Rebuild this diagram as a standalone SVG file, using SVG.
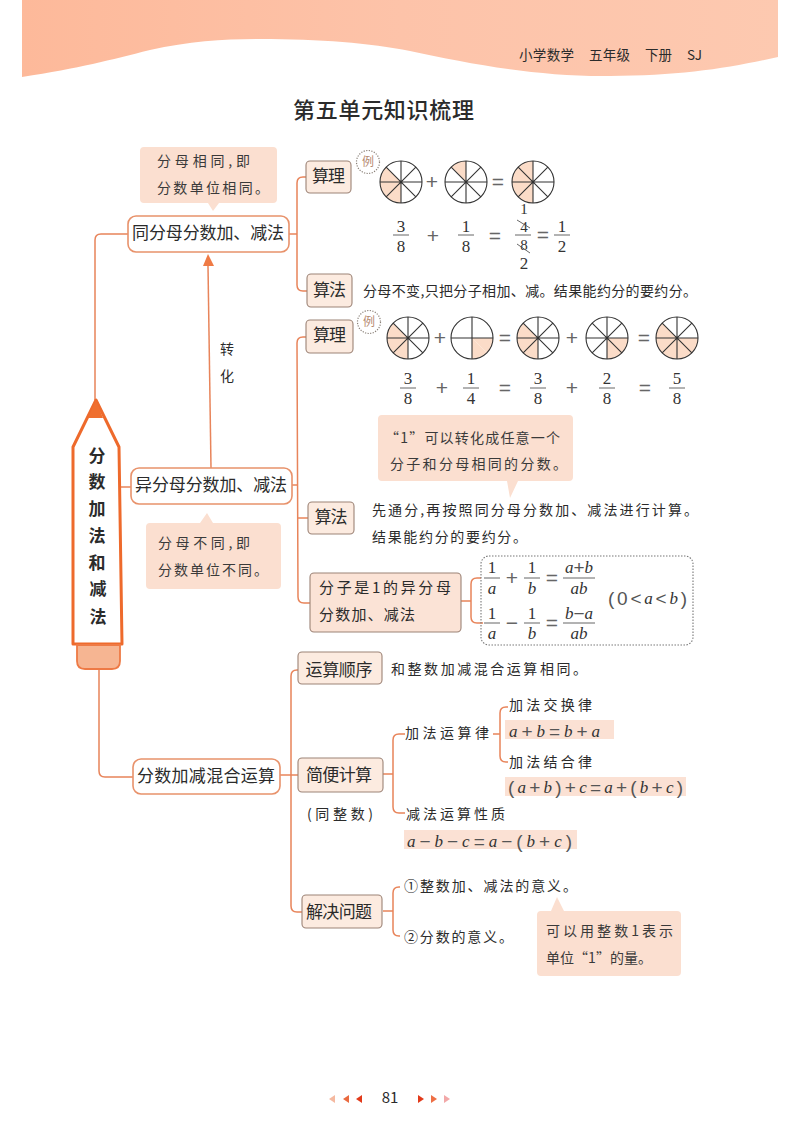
<svg xmlns="http://www.w3.org/2000/svg" width="800" height="1132" viewBox="0 0 800 1132">
<style>
text{font-family:"Noto Sans CJK SC","Noto Sans",sans-serif;fill:#2b2b2b;dominant-baseline:central;transform:translateY(-.09em)}
.m{font-size:17px;text-anchor:middle}
.b{font-size:14px}
.c{font-size:14px;fill:#3a3a3a}
.f{font-family:"Liberation Serif",serif;font-size:17px;text-anchor:middle;fill:#333;transform:none}
.f15{font-size:15px}
.fs{font-family:"Liberation Sans",sans-serif;font-size:21px;text-anchor:middle;fill:#666;transform:none}
.i{font-family:"Liberation Serif",serif;font-style:italic;font-size:17px;fill:#333;transform:none}
.iz{font-family:"Liberation Serif",serif;font-style:italic;font-size:17px;text-anchor:middle;fill:#333;transform:none}
.o{font-family:"Liberation Sans",sans-serif;font-style:normal;font-size:19px;fill:#555}
.call{fill:#fbdfd0}
.hl{fill:#fbe1d4}
.main{fill:#fff;stroke:#e8926b;stroke-width:1.6}
.sub{fill:#fcebe0;stroke:#9c8376;stroke-width:1.1}
.con{fill:none;stroke:#e8845a;stroke-width:1.5}
.bar{stroke:#555;stroke-width:.9}
.pl{stroke:#333;stroke-width:1.1;fill:none}
.sh{fill:#fbdcc8}
.ex{fill:#fff;stroke:#8a8078;stroke-width:1.2;stroke-dasharray:1.2 1.4}
.ext{font-size:12px;text-anchor:middle;fill:#b58a70}
</style>
<defs>
<linearGradient id="band" x1="0" x2="1" y1="0" y2="0"><stop offset="0" stop-color="#fdb99a"/><stop offset=".5" stop-color="#fdc3a9"/><stop offset="1" stop-color="#fdc9b0"/></linearGradient>
<g id="p8" class="pl"><circle r="21"/><path d="M0-21V21M-21 0H21M-14.850-14.850L14.850 14.850M-14.850 14.850L14.850-14.850"/></g>
<g id="p4" class="pl"><circle r="21"/><path d="M0-21V21M-21 0H21"/></g>
<path id="s2" class="sh" d="M0 0H21A21 21 0 0 1 14.850 14.850Z"/>
<path id="s3" class="sh" d="M0 0L14.850 14.850A21 21 0 0 1 0 21Z"/>
<path id="s4" class="sh" d="M0 0V21A21 21 0 0 1-14.850 14.850Z"/>
<path id="s5" class="sh" d="M0 0L-14.850 14.850A21 21 0 0 1-21 0Z"/>
<path id="s6" class="sh" d="M0 0H-21A21 21 0 0 1-14.850-14.850Z"/>
<path id="s7" class="sh" d="M0 0L-14.850-14.850A21 21 0 0 1 0-21Z"/>
</defs>
<rect width="800" height="1132" fill="#fff"/>
<g id="header">
<path d="M22 0H778V57C730 68 680 76 610 76C540 77 470 64 410 51C370 43 320 39 260 39C225 39 190 41 150 50C110 60 80 68 22 77Z" fill="url(#band)"/>
<text x="519" y="55" font-size="13.500" textLength="55">小学数学</text>
<text x="589" y="55" font-size="13.500" textLength="41">五年级</text>
<text x="645" y="55" font-size="13.500" textLength="27">下册</text>
<text x="687" y="55" font-size="13.500" textLength="15">SJ</text>
<text x="293" y="110" font-size="22" font-weight="500" textLength="181" fill="#222">第五单元知识梳理</text>
</g>
<g id="connectors">
<path class="con" d="M95 400V240Q95 234 101 234H128"/>
<path class="con" d="M208 266L211 468"/>
<polygon points="208,254 203,266 214,266" fill="#ef7a45"/>
<path class="con" d="M289 234H297"/>
<path class="con" d="M306 177H303Q297 177 297 183V285Q297 291 303 291H307"/>
<path class="con" stroke-width="2.500" d="M120 487H131"/>
<path class="con" d="M292 485H298"/>
<path class="con" d="M306 337H303Q297 337 297 343L298 597Q298 603 304 603H310"/>
<path class="con" d="M298 518H308"/>
<path class="con" d="M461 601H471M481 578H477Q471 578 471 584V617Q471 623 477 623H483"/>
<path class="con" d="M99 669V771Q99 777 105 777H133"/>
<path class="con" d="M280 775H298"/>
<path class="con" d="M298 670H297Q291 670 291 676V906Q291 912 297 912H302"/>
<path class="con" d="M383 774H393M405 734H399Q393 734 393 740V807Q393 813 399 813H405"/>
<path class="con" d="M493 734H500M508 707H506Q500 707 500 713V756Q500 762 506 762H508"/>
<path class="con" d="M383 911H393M400 887H399Q393 887 393 893V930Q393 936 399 936H400"/>
</g>
<g id="pencil">
<path d="M96 400L73 447V644H122L119 447Z" fill="#fff" stroke="#ee6a2c" stroke-width="3" stroke-linejoin="round"/>
<polygon points="96,400 88,418 103,418" fill="#ef6f2f"/>
<path d="M77 645H120V661Q120 669 112 669H85Q77 669 77 661Z" fill="#f6b592" stroke="#ee7a45" stroke-width="1.800"/>
<g font-size="17" font-weight="700" text-anchor="middle">
<text x="97" y="456" fill="#111">分</text><text x="97" y="482" fill="#111">数</text><text x="97" y="509" fill="#111">加</text><text x="97" y="536" fill="#111">法</text><text x="97" y="563" fill="#111">和</text><text x="98" y="589" fill="#111">减</text><text x="98" y="617" fill="#111">法</text>
</g>
</g>
<g id="callout-same">
<path class="call" d="M144 147H273Q277 147 277 151V199Q277 203 273 203H219L213 211L208 203H144Q140 203 140 199V151Q140 147 144 147Z"/>
<text class="c" x="157" y="161" textLength="93">分母相同,即</text>
<text class="c" x="157" y="188" textLength="112">分数单位相同。</text>
</g>
<g id="node-same"><rect class="main" x="128" y="216" width="161" height="36" rx="8"/><text class="m" x="208" y="233" textLength="152">同分母分数加、减法</text></g>
<g id="label-transform"><text x="227" y="349" font-size="14" text-anchor="middle" fill="#b0786c">转</text><text x="227" y="376" font-size="14" text-anchor="middle" fill="#b0786c">化</text></g>
<g id="node-diff"><rect class="main" x="131" y="468" width="161" height="36" rx="8"/><text class="m" x="211" y="485" textLength="152">异分母分数加、减法</text></g>
<g id="callout-diff">
<path class="call" d="M150 523H200L207 513L213 523H277Q281 523 281 527V585Q281 589 277 589H150Q146 589 146 585V527Q146 523 150 523Z"/>
<text class="c" x="158" y="543" textLength="92">分母不同,即</text>
<text class="c" x="158" y="570" textLength="110">分数单位不同。</text>
</g>
<g id="node-mixed"><rect class="main" x="133" y="759" width="147" height="35" rx="8"/><text class="m" x="206" y="776" textLength="138">分数加减混合运算</text></g>

<g id="node-rule1"><rect class="sub" x="306" y="161" width="45" height="32" rx="4"/><text class="m" x="328.500" y="176" textLength="33">算理</text></g>
<g id="node-method1"><rect class="sub" x="307" y="274" width="45" height="33" rx="4"/><text class="m" x="329.500" y="290" textLength="33">算法</text></g>
<g id="badge1"><circle class="ex" cx="368" cy="162" r="11.500"/><text class="ext" x="368" y="162">例</text></g>
<g id="example1">
<g transform="translate(401 182)"><use href="#s6"/><use href="#s5"/><use href="#s4"/><use href="#p8"/></g>
<text class="fs" x="432" y="181">+</text>
<g transform="translate(466 182)"><use href="#s7"/><use href="#p8"/></g>
<text class="fs" x="498" y="181">=</text>
<g transform="translate(533 182)"><use href="#s7"/><use href="#s6"/><use href="#s5"/><use href="#s4"/><use href="#p8"/></g>
<text class="f" x="401" y="226">3</text><line class="bar" x1="393" x2="409" y1="235" y2="235"/><text class="f" x="401" y="246">8</text>
<text class="fs" x="433" y="235">+</text>
<text class="f" x="466" y="226">1</text><line class="bar" x1="458" x2="474" y1="235" y2="235"/><text class="f" x="466" y="246">8</text>
<text class="fs" x="495" y="235">=</text>
<text class="f f15" x="524" y="209">1</text><text class="f f15" x="524" y="226.500">4</text><line class="bar" x1="515" x2="531" y1="235" y2="235"/><text class="f f15" x="524" y="245">8</text><text class="f" x="524" y="263">2</text>
<path class="bar" d="M517 220L530 228M517 244L530 253"/>
<text class="fs" x="543" y="234">=</text>
<text class="f" x="562" y="226">1</text><line class="bar" x1="554" x2="570" y1="235" y2="235"/><text class="f" x="562" y="246">2</text>
</g>
<g id="text-method1"><text class="b" x="363" y="291" textLength="334">分母不变,只把分子相加、减。结果能约分的要约分。</text></g>

<g id="node-rule2"><rect class="sub" x="306" y="320" width="47" height="33" rx="4"/><text class="m" x="329.500" y="335" textLength="33">算理</text></g>
<g id="badge2"><circle class="ex" cx="369" cy="322" r="11.500"/><text class="ext" x="369" y="322">例</text></g>
<g id="example2">
<g transform="translate(408 338)"><use href="#s6"/><use href="#s5"/><use href="#s4"/><use href="#p8"/></g>
<text class="fs" x="440" y="337">+</text>
<g transform="translate(472 338)"><use href="#s2"/><use href="#s3"/><use href="#p4"/></g>
<text class="fs" x="505" y="337">=</text>
<g transform="translate(538 338)"><use href="#s6"/><use href="#s5"/><use href="#s4"/><use href="#p8"/></g>
<text class="fs" x="572" y="337">+</text>
<g transform="translate(607 338)"><use href="#s2"/><use href="#s3"/><use href="#p8"/></g>
<text class="fs" x="644" y="337">=</text>
<g transform="translate(677 338)"><use href="#s6"/><use href="#s5"/><use href="#s4"/><use href="#s3"/><use href="#s2"/><use href="#p8"/></g>
<text class="f" x="408" y="378">3</text><line class="bar" x1="400" x2="416" y1="388" y2="388"/><text class="f" x="408" y="398">8</text>
<text class="fs" x="442" y="387">+</text>
<text class="f" x="471" y="378">1</text><line class="bar" x1="463" x2="479" y1="388" y2="388"/><text class="f" x="471" y="398">4</text>
<text class="fs" x="505" y="387">=</text>
<text class="f" x="538" y="378">3</text><line class="bar" x1="530" x2="546" y1="388" y2="388"/><text class="f" x="538" y="398">8</text>
<text class="fs" x="572" y="387">+</text>
<text class="f" x="607" y="378">2</text><line class="bar" x1="599" x2="615" y1="388" y2="388"/><text class="f" x="607" y="398">8</text>
<text class="fs" x="645" y="387">=</text>
<text class="f" x="677" y="378">5</text><line class="bar" x1="669" x2="685" y1="388" y2="388"/><text class="f" x="677" y="398">8</text>
</g>
<g id="callout-one">
<path class="call" d="M382 415H569Q573 415 573 419V477Q573 481 569 481H518L510 498L507 481H382Q378 481 378 477V419Q378 415 382 415Z"/>
<text class="c" x="385" y="438" textLength="175">“1”可以转化成任意一个</text>
<text class="c" x="390" y="464" textLength="177">分子和分母相同的分数。</text>
</g>
<g id="node-method2"><rect class="sub" x="308" y="502" width="46" height="32" rx="4"/><text class="m" x="331" y="517" textLength="33">算法</text></g>
<g id="text-method2">
<text class="b" x="372" y="510" textLength="326">先通分,再按照同分母分数加、减法进行计算。</text>
<text class="b" x="372" y="537" textLength="155">结果能约分的要约分。</text>
</g>
<g id="node-unit"><rect x="310" y="573" width="151" height="59" rx="4" fill="#fbe3d6" stroke="#9c8376" stroke-width="1.100"/>
<text x="319" y="588" font-size="15" textLength="132">分子是1的异分母</text><text x="319" y="615" font-size="15" textLength="96">分数加、减法</text></g>
<g id="formula-box">
<rect x="481" y="556" width="212" height="89" rx="8" fill="none" stroke="#777" stroke-width="1.100" stroke-dasharray="1.500 1.500"/>
<text class="f" x="492" y="567">1</text><line class="bar" x1="484" x2="500" y1="578" y2="578"/><text class="iz" x="492" y="588">a</text>
<text class="fs" x="512" y="577">+</text>
<text class="f" x="532" y="567">1</text><line class="bar" x1="524" x2="540" y1="578" y2="578"/><text class="iz" x="532" y="588">b</text>
<text class="fs" x="552" y="577">=</text>
<text class="iz" x="579" y="567">a<tspan class="o">+</tspan>b</text><line class="bar" x1="563" x2="595" y1="578" y2="578"/><text class="iz" x="579" y="588">ab</text>
<text class="f" x="492" y="613">1</text><line class="bar" x1="484" x2="500" y1="623" y2="623"/><text class="iz" x="492" y="633">a</text>
<text class="fs" x="512" y="622">−</text>
<text class="f" x="532" y="613">1</text><line class="bar" x1="524" x2="540" y1="623" y2="623"/><text class="iz" x="532" y="633">b</text>
<text class="fs" x="552" y="622">=</text>
<text class="iz" x="579" y="613">b<tspan class="o">−</tspan>a</text><line class="bar" x1="563" x2="595" y1="623" y2="623"/><text class="iz" x="579" y="633">ab</text>
<text class="i" x="608" y="598" textLength="79"><tspan class="o">(0&lt;</tspan>a<tspan class="o">&lt;</tspan>b<tspan class="o">)</tspan></text>
</g>

<g id="node-order"><rect class="sub" x="298" y="652" width="84" height="32" rx="4"/><text class="m" x="339" y="670" textLength="67">运算顺序</text></g>
<g id="text-order"><text class="b" x="391" y="669" textLength="196">和整数加减混合运算相同。</text></g>
<g id="node-simple"><rect class="sub" x="298" y="758" width="85" height="34" rx="4"/><text class="m" x="339" y="775" textLength="66">简便计算</text></g>
<g id="label-same"><text x="307" y="814" font-size="14" textLength="66" fill="#a87a66">(同整数)</text></g>
<g id="branch-add"><text class="b" x="405" y="733" textLength="84">加法运算律</text></g>
<g id="law-commute">
<text class="b" x="509" y="705" textLength="83">加法交换律</text>
<rect class="hl" x="505" y="720" width="109" height="19"/>
<text class="i" x="509" y="731" textLength="91">a<tspan class="o">+</tspan>b<tspan class="o">=</tspan>b<tspan class="o">+</tspan>a</text>
</g>
<g id="law-assoc">
<text class="b" x="509" y="762" textLength="83">加法结合律</text>
<rect class="hl" x="505" y="777" width="181" height="19"/>
<text class="i" x="508" y="787" textLength="175"><tspan class="o">(</tspan>a<tspan class="o">+</tspan>b<tspan class="o">)+</tspan>c<tspan class="o">=</tspan>a<tspan class="o">+(</tspan>b<tspan class="o">+</tspan>c<tspan class="o">)</tspan></text>
</g>
<g id="law-sub">
<text class="b" x="406" y="814" textLength="99">减法运算性质</text>
<rect class="hl" x="404" y="830" width="173" height="19"/>
<text class="i" x="407" y="841" textLength="165">a<tspan class="o">−</tspan>b<tspan class="o">−</tspan>c<tspan class="o">=</tspan>a<tspan class="o">−(</tspan>b<tspan class="o">+</tspan>c<tspan class="o">)</tspan></text>
</g>
<g id="node-solve"><rect class="sub" x="302" y="895" width="80" height="33" rx="4"/><text class="m" x="339" y="912" textLength="66">解决问题</text></g>
<g id="text-solve">
<text class="b" x="404" y="886" textLength="173">①整数加、减法的意义。</text>
<text class="b" x="404" y="937" textLength="109">②分数的意义。</text>
</g>
<g id="callout-unit">
<path class="call" d="M551 911L557 897L564 911H677Q681 911 681 915V972Q681 976 677 976H541Q537 976 537 972V915Q537 911 541 911Z"/>
<text class="c" x="546" y="931" textLength="127">可以用整数1表示</text>
<text class="c" x="546" y="958" textLength="106">单位“1”的量。</text>
</g>
<g id="footer">
<polygon points="329,1099 335,1095 335,1103" fill="#f5b9a0"/>
<polygon points="343,1099 349,1095 349,1103" fill="#ea6a40"/>
<polygon points="356,1099 362,1095 362,1103" fill="#e23a1a"/>
<text x="390" y="1098" font-size="15" text-anchor="middle">81</text>
<polygon points="424,1099 418,1095 418,1103" fill="#e23a1a"/>
<polygon points="437,1099 431,1095 431,1103" fill="#ee6f45"/>
<polygon points="450,1099 444,1095 444,1103" fill="#f2a8a8"/>
</g>
</svg>
